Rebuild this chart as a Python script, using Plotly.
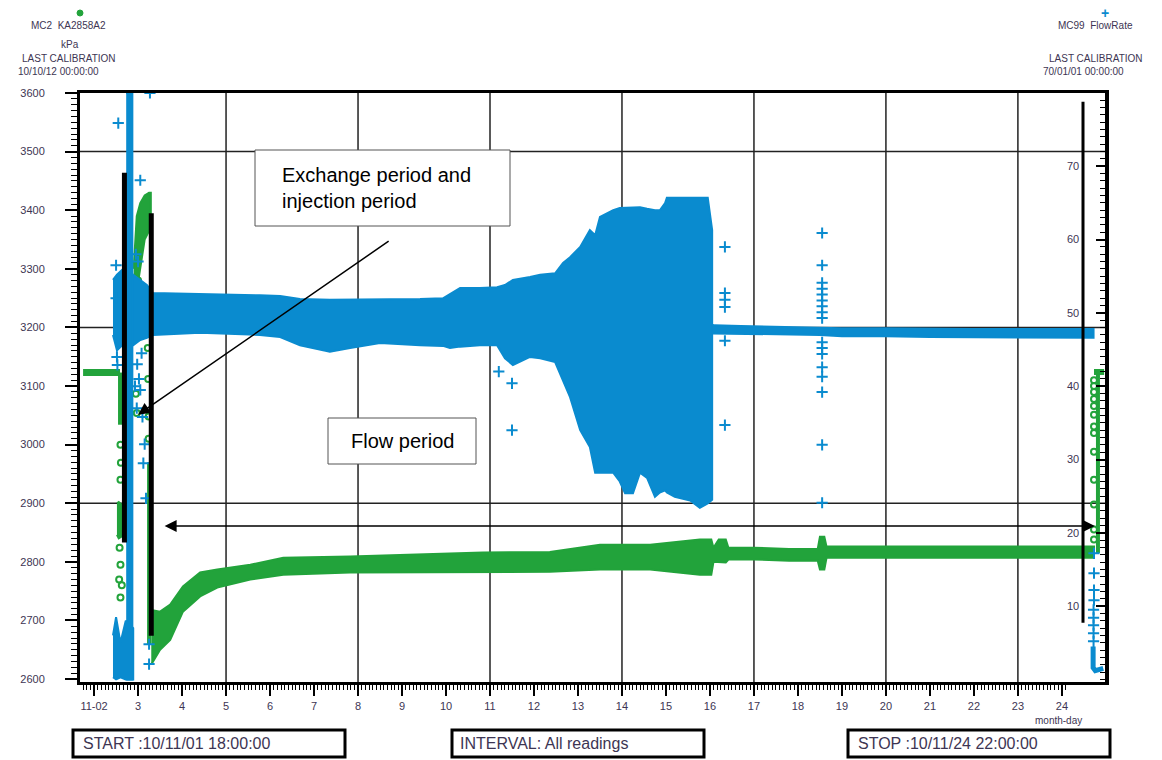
import plotly.graph_objects as go

# ---------------- data ----------------
# time = day of November 2010 (1.75 = 11-01 18:00, 24.92 = 11-24 22:00)

# Green: pressure KA2858A2 (kPa, left axis)
pre_days = [1.75, 2.59]
pre_kpa = [3123, 3123]
exch_days = [2.59, 2.59]
exch_kpa = [3123, 3034]
squig_days = [2.52, 2.56, 2.62]
squig_hi = [2900, 2902, 2898]
squig_lo = [2846, 2840, 2843]
exch_pts_days = [2.60, 2.61, 2.60, 2.58, 2.60, 2.57, 2.60, 2.63, 2.95, 2.97, 3.00, 3.22, 3.23, 3.24, 3.24]
exch_pts_kpa = [3000, 2969, 2940, 2824, 2795, 2770, 2739, 2760, 3087, 3054, 3280, 3165, 3112, 3048, 3010]
inj_days = [2.90, 2.97, 3.05, 3.15, 3.25, 3.29]
inj_hi = [3300, 3390, 3412, 3425, 3430, 3430]
inj_lo = [3250, 3262, 3300, 3350, 3365, 3365]
fall_days = [3.25, 3.25]
fall_kpa = [2970, 2660]
g_days = [3.30, 3.50, 3.73, 4.02, 4.41, 4.80, 5.55, 6.30, 7.82, 10.84, 12.36, 13.50, 14.64, 15.77, 16.03,
          16.08, 16.20, 16.36, 16.42, 17.00, 17.80, 18.45, 18.50, 18.60, 18.65, 19.50, 21.00, 23.00, 24.73]
g_hi = [2718, 2715, 2727, 2758, 2782, 2787, 2795, 2807, 2809, 2816, 2817, 2829, 2829, 2838, 2838,
        2824, 2838, 2838, 2824, 2824, 2822, 2822, 2843, 2843, 2826, 2826, 2826, 2826, 2826]
g_lo = [2625, 2650, 2667, 2715, 2741, 2756, 2770, 2778, 2782, 2783, 2783, 2787, 2787, 2778, 2778,
        2800, 2799, 2799, 2804, 2804, 2802, 2802, 2787, 2787, 2807, 2807, 2807, 2807, 2807]
rec_pts_days = [24.73, 24.73, 24.73, 24.73, 24.73, 24.73, 24.73, 24.73, 24.73, 24.73, 24.73, 24.73, 24.73]
rec_pts_kpa = [2838, 2855, 2898, 2940, 2988, 3020, 3031, 3051, 3066, 3078, 3090, 3100, 3110]
rec_line_days = [24.82, 24.82]
rec_line_kpa = [2815, 3124]
post_days = [24.73, 24.96]
post_kpa = [3124, 3124]

# Blue: flow rate (right axis)
f_days = [2.43, 2.52, 2.64, 2.75, 2.89, 3.05, 3.20, 3.34, 4.41, 5.77, 6.23, 6.68, 7.36, 7.82, 8.05, 8.50,
          9.41, 9.93, 10.09, 10.32, 10.77, 11.00, 11.16, 11.34, 11.52, 11.91, 12.14, 12.48, 12.66, 12.82,
          13.05, 13.27, 13.39, 13.50, 13.80, 13.95, 14.07, 14.25, 14.41, 14.57, 14.75, 14.86, 14.98, 15.02,
          15.20, 15.48, 15.55, 15.77, 15.95, 16.05]
f_hi = [54.5, 55.2, 55.9, 55.9, 55.2, 54.5, 53.8, 52.7, 52.6, 52.4, 52.3, 51.9, 51.8, 51.8, 51.8, 51.8,
        51.9, 52.0, 52.6, 53.4, 53.4, 53.5, 53.5, 53.8, 54.5, 54.9, 55.2, 55.4, 56.8, 57.6,
        59.0, 61.3, 60.6, 63.1, 64.0, 64.3, 64.3, 64.3, 64.4, 64.2, 64.0, 64.0, 65.0, 65.7,
        65.7, 65.8, 65.8, 65.7, 65.7, 61.3]
f_lo = [47.0, 44.9, 45.6, 45.6, 45.6, 46.3, 46.6, 47.0, 47.3, 47.0, 46.7, 45.6, 44.7, 45.2, 45.5, 45.9,
        45.6, 45.5, 45.2, 45.4, 45.6, 45.6, 45.6, 43.8, 42.9, 44.0, 43.8, 43.3, 40.8, 38.5,
        34.0, 31.7, 28.2, 28.2, 28.2, 27.0, 25.4, 25.4, 28.2, 27.5, 24.9, 25.5, 25.8, 25.5,
        24.9, 24.5, 24.4, 23.4, 24.0, 24.5]
n_days = [16.05, 16.10, 16.70, 17.50, 18.50, 19.00, 20.00, 21.00, 22.00, 23.00, 24.00, 24.72]
n_hi = [48.4, 48.3, 48.2, 48.1, 48.0, 47.9, 47.9, 47.8, 47.8, 47.8, 47.8, 47.8]
n_lo = [47.2, 47.2, 47.2, 47.1, 47.0, 46.8, 46.8, 46.7, 46.7, 46.7, 46.6, 46.6]
col_days = [2.73, 2.87]
col_hi = [80.0, 80.0]
col_lo = [0.0, 0.0]
bot_days = [2.43, 2.50, 2.60, 2.72, 2.89]
bot_hi = [6.0, 8.5, 5.0, 8.0, 7.0]
bot_lo = [0.3, 0.0, 0.3, 0.0, 0.0]
out_days = [2.55, 3.05, 3.27, 2.50, 2.52, 2.53, 2.50, 3.10, 3.15, 3.12, 3.18, 3.25, 3.25, 2.95, 3.00,
            2.98, 3.02, 3.05, 2.97, 3.08, 2.93,
            11.50, 11.50, 11.20,
            16.34, 16.34, 16.34, 16.34, 16.34, 16.34,
            18.55, 18.55, 18.55, 18.55, 18.55, 18.55, 18.55, 18.55, 18.55, 18.55, 18.55, 18.55, 18.55,
            18.55, 18.55, 18.55, 18.55,
            24.73, 24.73, 24.73, 24.73, 24.72, 24.72, 24.72, 24.72, 24.72]
out_flow = [75.9, 68.1, 80.0, 56.5, 44.0, 42.9, 52.0, 35.8, 32.1, 29.5, 24.7, 4.8, 2.1, 58.0, 57.0,
            43.0, 41.0, 39.5, 37.0, 44.5, 40.0,
            40.4, 34.0, 42.0,
            59.0, 52.7, 51.8, 50.8, 46.2, 34.7,
            60.9, 56.5, 54.1, 53.3, 52.5, 51.7, 50.9, 50.1, 49.3, 46.0, 45.2, 44.4, 42.6,
            41.3, 39.2, 32.0, 24.1,
            17.2, 14.5, 12.2, 10.8, 9.5, 8.4, 7.4, 6.3, 5.2]
end_days = [24.71, 24.71, 24.76, 24.94]
end_flow = [4.5, 1.6, 1.2, 1.5]

x_tickvals = list(range(2, 25))
x_ticktext = ["11-02"] + [str(d) for d in range(3, 25)]
grid_days = [5, 8, 11, 14, 17, 20, 23]
grid_kpa = [2900, 3200, 3500]

# ---------------- figure ----------------
BLUE = "#0a8bcf"
GREEN = "#22a33b"
TXT = "#3d3553"
FONT = "Liberation Sans, Arial, sans-serif"
W, H = 1162, 760
L, R, T, B = 80, 57, 93, 78


def px(x):
    return (x - L) / (W - L - R)


def py(y):
    return (H - B - y) / (H - T - B)


def band(days, hi, lo, color, yaxis):
    return go.Scatter(x=list(days) + list(days)[::-1], y=list(hi) + list(lo)[::-1],
                      mode="lines", fill="toself", fillcolor=color,
                      line=dict(color=color, width=2), yaxis=yaxis, hoverinfo="skip")


fig = go.Figure()
# green (left axis)
fig.add_trace(go.Scatter(x=pre_days, y=pre_kpa, mode="lines", line=dict(color=GREEN, width=7)))
fig.add_trace(go.Scatter(x=exch_days, y=exch_kpa, mode="lines", line=dict(color=GREEN, width=4)))
fig.add_trace(band(squig_days, squig_hi, squig_lo, GREEN, "y"))
fig.add_trace(go.Scatter(x=exch_pts_days, y=exch_pts_kpa, mode="markers",
                         marker=dict(symbol="circle-open", size=6, color=GREEN, line=dict(width=2))))
fig.add_trace(band(inj_days, inj_hi, inj_lo, GREEN, "y"))
fig.add_trace(go.Scatter(x=fall_days, y=fall_kpa, mode="lines", line=dict(color=GREEN, width=4)))
fig.add_trace(band(g_days, g_hi, g_lo, GREEN, "y"))
fig.add_trace(go.Scatter(x=rec_pts_days, y=rec_pts_kpa, mode="markers",
                         marker=dict(symbol="circle-open", size=6, color=GREEN, line=dict(width=2))))
fig.add_trace(go.Scatter(x=rec_line_days, y=rec_line_kpa, mode="lines", line=dict(color=GREEN, width=4)))
fig.add_trace(go.Scatter(x=post_days, y=post_kpa, mode="lines", line=dict(color=GREEN, width=6)))
# blue (right axis)
fig.add_trace(band(f_days, f_hi, f_lo, BLUE, "y2"))
fig.add_trace(band(n_days, n_hi, n_lo, BLUE, "y2"))
fig.add_trace(band(col_days, col_hi, col_lo, BLUE, "y2"))
fig.add_trace(band(bot_days, bot_hi, bot_lo, BLUE, "y2"))
fig.add_trace(go.Scatter(x=out_days, y=out_flow, mode="markers", yaxis="y2",
                         marker=dict(symbol="cross-thin", size=8, color=BLUE, line=dict(width=2, color=BLUE))))
fig.add_trace(go.Scatter(x=end_days, y=end_flow, mode="lines", yaxis="y2", line=dict(color=BLUE, width=5)))

shapes = []
for d in grid_days:
    shapes.append(dict(type="line", xref="x", yref="paper", x0=d, x1=d, y0=0, y1=1,
                       line=dict(color="#222", width=1.5), layer="below"))
for k in grid_kpa:
    shapes.append(dict(type="line", xref="paper", yref="y", x0=0, x1=1, y0=k, y1=k,
                       line=dict(color="#222", width=1.5), layer="below"))
# black marker bars
for x0, ya, yb, w in [(2.69, 3464, 2833, 5), (3.30, 3395, 2674, 5), (24.48, 3585, 2696, 3)]:
    shapes.append(dict(type="line", xref="x", yref="y", x0=x0, x1=x0, y0=ya, y1=yb,
                       line=dict(color="black", width=w), layer="above"))
# text boxes
shapes.append(dict(type="rect", xref="paper", yref="paper", x0=px(255), x1=px(510), y0=py(226), y1=py(150),
                   line=dict(color="#555", width=1), fillcolor="white", layer="above"))
shapes.append(dict(type="rect", xref="paper", yref="paper", x0=px(328), x1=px(476), y0=py(464), y1=py(418),
                   line=dict(color="#555", width=1), fillcolor="white", layer="above"))
for a, b in [(73, 345), (452, 704), (848, 1110)]:
    shapes.append(dict(type="rect", xref="paper", yref="paper", x0=px(a), x1=px(b), y0=py(757), y1=py(730),
                       line=dict(color="black", width=3), fillcolor="rgba(0,0,0,0)"))
shapes.append(dict(type="circle", xref="paper", yref="paper", x0=px(77), x1=px(83), y0=py(16), y1=py(10),
                   line=dict(color=GREEN, width=1), fillcolor=GREEN))

ann = []


def txt(x, y, s, size=11, anchor="center", color=TXT):
    ann.append(dict(xref="paper", yref="paper", x=px(x), y=py(y), text=s, showarrow=False,
                    xanchor=anchor, yanchor="middle", font=dict(size=size, color=color, family=FONT),
                    align="left"))


txt(68, 25, "MC2&nbsp;&nbsp;KA2858A2", size=10)
txt(70, 45, "kPa", size=10)
txt(69, 59, "LAST CALIBRATION", size=10)
txt(58, 71, "10/10/12 00:00:00", size=10)
txt(1095, 25, "MC99&nbsp;&nbsp;FlowRate", size=10)
txt(1096, 59, "LAST CALIBRATION", size=10)
txt(1083, 71, "70/01/01 00:00:00", size=10)
txt(1105, 13, "<b>+</b>", size=14, color=BLUE)
txt(1058, 720, "month-day", size=10)
txt(280, 188, "Exchange period and<br>injection period", size=20, anchor="left", color="black")
txt(402, 441, "Flow period", size=20, color="black")
txt(81, 744, "START :10/11/01 18:00:00", size=16, anchor="left")
txt(458, 744, "INTERVAL: All readings", size=16, anchor="left")
txt(856, 744, "STOP :10/11/24 22:00:00", size=16, anchor="left")
# arrows
ann.append(dict(xref="x", yref="y", axref="x", ayref="y", x=3.0, y=3051, ax=8.73, ay=3349, text="",
                showarrow=True, arrowhead=2, arrowsize=1.6, arrowwidth=1.5, arrowcolor="black"))
ann.append(dict(xref="x", yref="y", axref="x", ayref="y", x=24.75, y=2861, ax=3.57, ay=2861, text="",
                showarrow=True, arrowhead=2, startarrowhead=2, arrowside="end+start", arrowsize=1.6,
                startarrowsize=1.6, arrowwidth=1.5, arrowcolor="black"))

tickfont = dict(size=11, color=TXT, family=FONT)
fig.update_layout(
    width=W, height=H, margin=dict(l=L, r=R, t=T, b=B),
    paper_bgcolor="white", plot_bgcolor="white", showlegend=False, hovermode=False,
    font=dict(family=FONT),
    xaxis=dict(range=[1.68, 24.98], tickmode="array", tickvals=x_tickvals, ticktext=x_ticktext,
               showgrid=False, zeroline=False, showline=True, linewidth=3, linecolor="black", mirror=True,
               ticks="outside", ticklen=11, tickwidth=2, tickcolor="black", tickfont=tickfont,
               ticklabelstandoff=1,
               minor=dict(tickmode="linear", tick0=2, dtick=1 / 12, ticks="outside", ticklen=5,
                          tickwidth=1, tickcolor="black")),
    yaxis=dict(range=[2595, 3600], tickmode="array", tickvals=list(range(2600, 3601, 100)),
               showgrid=False, zeroline=False, showline=True, linewidth=3, linecolor="black",
               ticks="outside", ticklen=12, tickwidth=2, tickcolor="black", tickfont=tickfont,
               ticklabelstandoff=18,
               minor=dict(tickmode="linear", tick0=2600, dtick=10, ticks="outside", ticklen=6,
                          tickwidth=1, tickcolor="black")),
    yaxis2=dict(range=[-0.35, 80], overlaying="y", side="right", tickmode="array",
                tickvals=list(range(10, 81, 10)), showgrid=False, zeroline=False, showline=True,
                linewidth=4, linecolor="black", ticks="inside", ticklen=9, tickwidth=2, tickcolor="black",
                ticklabelposition="inside", tickfont=tickfont, ticklabelstandoff=16,
                minor=dict(tickmode="linear", tick0=0, dtick=1, ticks="inside", ticklen=5,
                           tickwidth=1, tickcolor="black")),
    shapes=shapes, annotations=ann,
)
fig.write_html("out.html")
